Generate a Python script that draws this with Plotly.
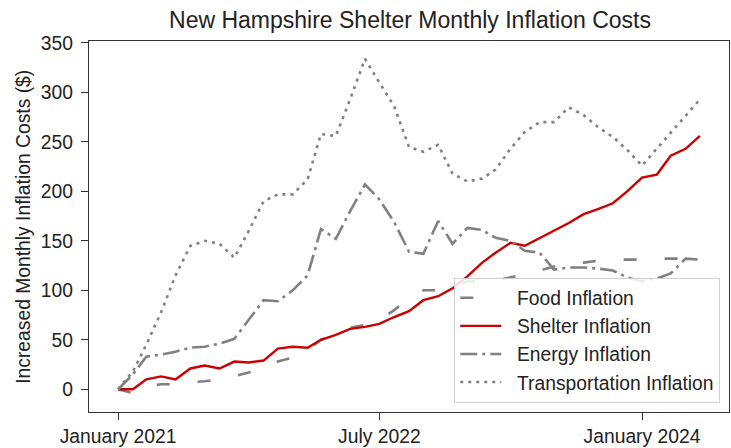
import pandas as pd
import plotly.graph_objects as go

# ---- data ----
months = pd.date_range("2021-01-01", periods=41, freq="MS")

food = [0, -4, 3, 5, 5, 7, 8, 10, 13, 17, 22, 28, 32, 40, 50, 55, 62, 65, 70, 80,
        92, 100, 100, 104, 109, 109, 110, 113, 116, 120, 124, 127, 128, 130, 131,
        131, 131, 132, 132, 132, 131]
shelter = [0, 0, 10, 13, 10, 21, 24, 21, 28, 27, 29, 41, 43, 42, 50, 55, 61, 63,
           66, 73, 79, 90, 94, 102, 114, 128, 138, 148, 145, 153, 160, 168, 177,
           182, 188, 200, 214, 217, 236, 243, 256]
energy = [0, 15, 33, 35, 38, 42, 43, 46, 51, 70, 90, 89, 100, 115, 162, 152, 180,
          207, 192, 169, 139, 137, 170, 147, 163, 161, 153, 150, 140, 138, 121,
          123, 123, 122, 120, 113, 109, 112, 117, 132, 131]
transport = [0, 18, 45, 78, 115, 145, 150, 147, 133, 160, 190, 197, 197, 212, 258,
             256, 293, 334, 310, 286, 245, 240, 247, 218, 210, 213, 222, 243, 260,
             270, 270, 285, 277, 265, 255, 242, 226, 243, 260, 277, 293]

series_names = ["Food Inflation", "Shelter Inflation", "Energy Inflation",
                "Transportation Inflation"]
x_tick_dates = ["2021-01-01", "2022-07-01", "2024-01-01"]
x_tick_text = ["January 2021", "July 2022", "January 2024"]
y_tick_vals = [0, 50, 100, 150, 200, 250, 300, 350]

GREY = "#808080"
RED = "#cc0000"
FONT = "Liberation Sans, Arial, sans-serif"
FS = 19.3

styles = [
    dict(color=GREY, width=2.6, dash="13px,28px"),
    dict(color=RED, width=2.4),
    dict(color=GREY, width=2.6, dash="17px,5px,3px,5px"),
    dict(color=GREY, width=2.6, dash="3px,5px"),
]

fig = go.Figure()
for i, (name, vals) in enumerate(zip(series_names, [food, shelter, energy, transport])):
    fig.add_trace(go.Scatter(x=months, y=vals, mode="lines", name="\u00a0\u00a0" + name,
                             line=styles[i], legendgroup=f"g{i}"))

# matplotlib-like 5% margins on x
span = months[-1] - months[0]
xr = [months[0] - span * 0.05, months[-1] + span * 0.05]

axis_common = dict(showline=True, mirror=True, linecolor="#333", linewidth=1.3,
                   ticks="outside", ticklen=7, tickcolor="#333", tickwidth=1.2,
                   showgrid=False, zeroline=False,
                   tickfont=dict(family=FONT, size=FS, color="#222"))

fig.update_layout(
    width=731, height=448,
    margin=dict(l=89, r=1, t=41, b=34),
    paper_bgcolor="white", plot_bgcolor="white",
    font=dict(family=FONT, color="#222"),
    title=dict(text="New Hampshire Shelter Monthly Inflation Costs",
               x=410 / 731, xanchor="center",
               y=1 - 20 / 448, yanchor="middle",
               font=dict(family=FONT, size=23, color="#222")),
    xaxis=dict(range=xr, tickvals=x_tick_dates, ticktext=x_tick_text, **axis_common),
    yaxis=dict(range=[-23, 352], tickvals=y_tick_vals, ticklabelstandoff=4,
               **axis_common),
    legend=dict(x=(456 - 89) / 643, y=(414 - 279) / 373, xanchor="left", yanchor="top",
                bgcolor="rgba(255,255,255,0.85)", bordercolor="#d0d0d0", borderwidth=1,
                font=dict(family=FONT, size=FS, color="#222"),
                itemwidth=41, tracegroupgap=5, traceorder="normal"),
    showlegend=True,
    annotations=[dict(text="Increased Monthly Inflation Costs ($)", textangle=-90,
                      xref="paper", yref="paper", x=(23 - 89) / 643, y=0.5,
                      xanchor="center", yanchor="middle", showarrow=False,
                      font=dict(family=FONT, size=FS, color="#222"))],
)

fig.write_html("out.html", config={"displayModeBar": False},
               post_script="document.body.style.margin='0';")
